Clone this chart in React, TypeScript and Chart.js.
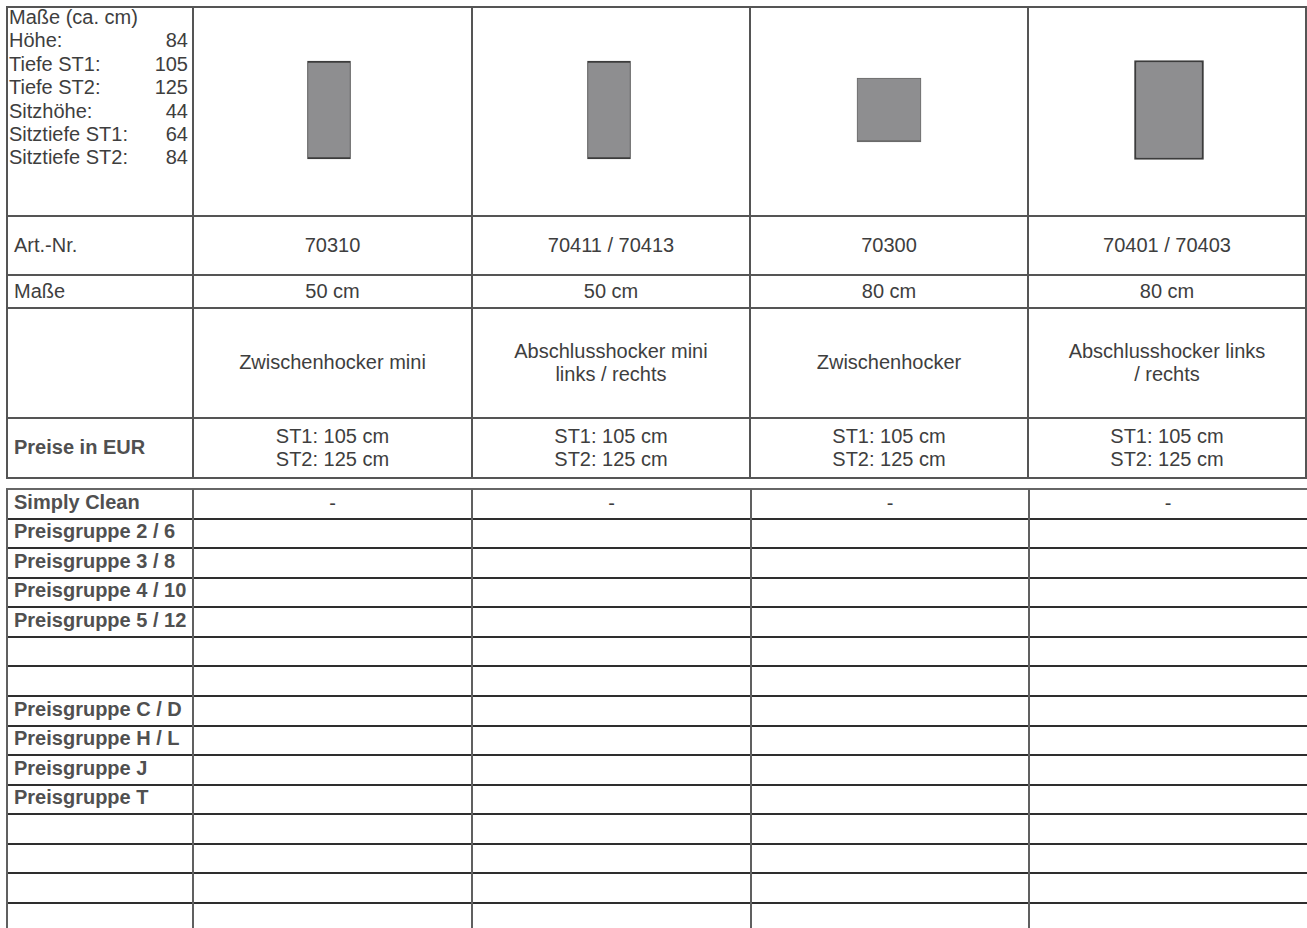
import React, { useEffect, useRef } from "react";
import { Chart, registerables } from "chart.js";

Chart.register(...registerables);

// ---------- data ----------
const dimHeader = "Maße (ca. cm)";
const dimLabels = ["Höhe:", "Tiefe ST1:", "Tiefe ST2:", "Sitzhöhe:", "Sitztiefe ST1:", "Sitztiefe ST2:"];
const dimValues = [84, 105, 125, 44, 64, 84];

const productArtNr = ["70310", "70411 / 70413", "70300", "70401 / 70403"];
const productSize = ["50 cm", "50 cm", "80 cm", "80 cm"];
const productName = [
  "Zwischenhocker mini",
  "Abschlusshocker mini\nlinks / rechts",
  "Zwischenhocker",
  "Abschlusshocker links\n/ rechts",
];
const productPriceNote = [
  "ST1: 105 cm\nST2: 125 cm",
  "ST1: 105 cm\nST2: 125 cm",
  "ST1: 105 cm\nST2: 125 cm",
  "ST1: 105 cm\nST2: 125 cm",
];
// footprint drawing (depth in drawing units)
const footprintDepth = [98, 98, 64, 99];

const rowLabels = ["Art.-Nr.", "Maße", "", "Preise in EUR"];
const priceGroupLabels = [
  "Simply Clean",
  "Preisgruppe 2 / 6",
  "Preisgruppe 3 / 8",
  "Preisgruppe 4 / 10",
  "Preisgruppe 5 / 12",
  "",
  "",
  "Preisgruppe C / D",
  "Preisgruppe H / L",
  "Preisgruppe J",
  "Preisgruppe T",
  "",
  "",
  "",
  "",
];
const simplyCleanValues = ["-", "-", "-", "-"];

// ---------- layout / style ----------
const FONT = '"Liberation Sans", Arial, sans-serif';
const TEXT = "#3e3e3e";
const BOLD_TEXT = "#505050";
const FS = 20;
const LH = 23.4;

const upperCols = [7, 193, 472, 750, 1028, 1306];
const upperRows = [7, 216, 275, 308, 418, 478];
const lowerCols = [7, 193, 472, 751, 1029];
const lowerTop = 489;
const lowerRowH = 29.57;

const barPx = [43, 43, 64, 69];
const barBorderColor = ["#3c3c3c", "#3c3c3c", "#6a6a6a", "#3c3c3c"];
const barBorderWidth = [
  { top: 2, bottom: 2, left: 1, right: 1 },
  { top: 2, bottom: 2, left: 1, right: 1 },
  { top: 1, bottom: 2, left: 1, right: 1 },
  { top: 2, bottom: 2, left: 2, right: 2 },
];

function Footprints() {
  const ref = useRef<HTMLCanvasElement | null>(null);
  useEffect(() => {
    if (!ref.current) return;
    const datasets = productArtNr.map((name, i) => ({
      label: name,
      data: productArtNr.map((_, j) =>
        j === i ? [-footprintDepth[i] / 2, footprintDepth[i] / 2] : null
      ),
      backgroundColor: "#8e8e90",
      borderColor: barBorderColor[i],
      borderWidth: barBorderWidth[i],
      borderSkipped: false,
      barThickness: barPx[i],
      grouped: false,
    }));
    const chart = new Chart(ref.current, {
      type: "bar",
      data: { labels: productArtNr, datasets: datasets as any },
      options: {
        animation: false,
        responsive: false,
        maintainAspectRatio: false,
        events: [],
        layout: { padding: 0 },
        scales: {
          x: { display: false, offset: true },
          y: { display: false, min: -105, max: 102 },
        },
        plugins: { legend: { display: false }, tooltip: { enabled: false } },
      },
    });
    return () => chart.destroy();
  }, []);
  return (
    <canvas
      ref={ref}
      width={1120}
      height={207}
      style={{ position: "absolute", left: 189, top: 8, width: 1120, height: 207 }}
    />
  );
}

function HLine({ x1, x2, y, color, w = 2 }: any) {
  return (
    <div
      style={{
        position: "absolute",
        left: x1,
        top: y - w / 2,
        width: x2 - x1,
        height: w,
        background: color,
      }}
    />
  );
}
function VLine({ x, y1, y2, color, w = 2 }: any) {
  return (
    <div
      style={{
        position: "absolute",
        left: x - w / 2,
        top: y1,
        width: w,
        height: y2 - y1,
        background: color,
      }}
    />
  );
}

function Cell({ x1, x2, y1, y2, text, bold, align = "center", padBottom = 0 }: any) {
  return (
    <div
      style={{
        position: "absolute",
        left: x1,
        top: y1,
        width: x2 - x1,
        height: y2 - y1,
        display: "flex",
        alignItems: "center",
        justifyContent: align === "center" ? "center" : "flex-start",
        textAlign: align,
        whiteSpace: "pre-line",
        fontFamily: FONT,
        fontSize: FS,
        lineHeight: `${LH}px`,
        fontWeight: bold ? 700 : 400,
        color: bold ? BOLD_TEXT : TEXT,
        paddingLeft: align === "center" ? 0 : 7,
        paddingBottom: padBottom,
        boxSizing: "border-box",
      }}
    >
      {text}
    </div>
  );
}

export default function App() {
  const cols = [productArtNr, productSize, productName, productPriceNote];
  const lowerRowsY = priceGroupLabels.map((_, i) => lowerTop + i * lowerRowH);
  const lowerLines = [...lowerRowsY, lowerTop + priceGroupLabels.length * lowerRowH];
  return (
    <div
      style={{
        position: "absolute",
        left: 0,
        top: 0,
        width: 1307,
        height: 928,
        overflow: "hidden",
        background: "#ffffff",
        fontFamily: FONT,
      }}
    >
      {/* top-left dimension block */}
      <div
        style={{
          position: "absolute",
          left: 9,
          top: 6,
          width: 179,
          fontSize: FS,
          lineHeight: `${LH}px`,
          color: TEXT,
        }}
      >
        <div>{dimHeader}</div>
        {dimLabels.map((l, i) => (
          <div key={l} style={{ display: "flex", justifyContent: "space-between" }}>
            <span>{l}</span>
            <span>{dimValues[i]}</span>
          </div>
        ))}
      </div>

      <Footprints />

      {/* upper table text */}
      {rowLabels.map((lab, r) => (
        <Cell
          key={"lab" + r}
          x1={upperCols[0]}
          x2={upperCols[1]}
          y1={upperRows[r + 1]}
          y2={upperRows[r + 2]}
          text={lab}
          bold={r === 3}
          align="left"
        />
      ))}
      {cols.map((arr, r) =>
        arr.map((t, c) => (
          <Cell
            key={"c" + r + "-" + c}
            x1={upperCols[c + 1]}
            x2={upperCols[c + 2]}
            y1={upperRows[r + 1]}
            y2={upperRows[r + 2]}
            text={t}
          />
        ))
      )}

      {/* upper grid */}
      {upperRows.map((y) => (
        <HLine key={"uh" + y} x1={6} x2={1307} y={y} color="#555" />
      ))}
      {upperCols.map((x) => (
        <VLine key={"uv" + x} x={x} y1={6} y2={479} color="#555" />
      ))}

      {/* lower table text */}
      {priceGroupLabels.map((lab, i) => (
        <Cell
          key={"pg" + i}
          x1={lowerCols[0]}
          x2={lowerCols[1]}
          y1={lowerRowsY[i]}
          y2={lowerRowsY[i] + lowerRowH}
          text={lab}
          bold
          align="left"
          padBottom={3}
        />
      ))}
      {simplyCleanValues.map((v, c) => (
        <Cell
          key={"sc" + c}
          x1={lowerCols[c + 1]}
          x2={c + 2 < lowerCols.length ? lowerCols[c + 2] : 1307}
          y1={lowerRowsY[0]}
          y2={lowerRowsY[0] + lowerRowH}
          text={v}
          padBottom={0}
        />
      ))}

      {/* lower grid */}
      {lowerLines.map((y, i) => (
        <HLine key={"lh" + i} x1={6} x2={1307} y={y} color={i === 0 ? "#666" : "#2e2e2e"} />
      ))}
      {lowerCols.map((x) => (
        <VLine key={"lv" + x} x={x} y1={lowerTop} y2={928} color="#606060" />
      ))}
    </div>
  );
}
